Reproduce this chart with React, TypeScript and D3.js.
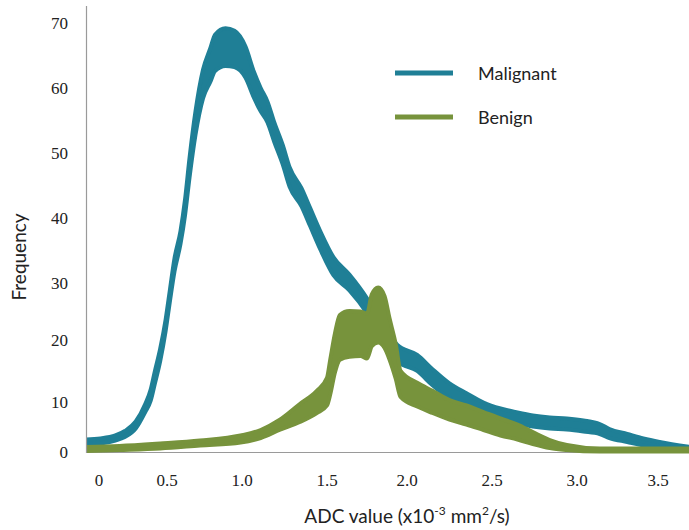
import { useRef, useEffect } from 'react'
import * as d3 from 'd3'

const WIDTH = 689
const HEIGHT = 530

const TEAL = '#1f7f96'
const OLIVE = '#77933c'

// axis ticks (label spacing in the source figure is not even)
const xTicks = [0, 0.5, 1.0, 1.5, 2.0, 2.5, 3.0, 3.5]
const yTicks = [0, 10, 20, 30, 40, 50, 60, 70]

// Malignant: ADC bins, frequency and the width of the noisy band
const malignantAdc = [
  -0.1, 0.01, 0.12, 0.19, 0.27, 0.34, 0.38, 0.41, 0.45, 0.49, 0.52, 0.55, 0.59, 0.62, 0.65, 0.69, 0.74,
  0.79, 0.82, 0.89, 0.95, 1.02, 1.07, 1.11, 1.15, 1.19, 1.24, 1.28, 1.35, 1.4, 1.46, 1.54, 1.64, 1.75,
  1.83, 1.94, 2.06, 2.15, 2.25, 2.35, 2.45, 2.55, 2.65, 2.74, 2.84, 2.94, 3.04, 3.14, 3.2, 3.31, 3.41,
  3.51, 3.7,
]
const malignantFreq = [
  2.0, 2.2, 2.8, 3.6, 5.4, 8.8, 11.1, 13.9, 17.6, 22.6, 27.9, 32.8, 37.0, 41.6, 47.7, 54.6, 60.6, 63.6,
  65.4, 66.3, 66.0, 64.0, 60.5, 58.2, 56.3, 53.2, 49.7, 46.3, 43.2, 40.2, 36.6, 32.6, 30.0, 26.0, 22.1,
  17.9, 16.3, 14.0, 11.8, 10.2, 8.8, 7.6, 6.8, 6.2, 5.8, 5.6, 5.2, 4.6, 3.7, 2.8, 2.0, 1.4, 0.6,
]
const malignantSpread = [
  0.5, 0.5, 0.5, 0.6, 0.7, 0.8, 0.9, 1.0, 1.0, 1.0, 1.0, 1.0, 1.0, 1.2, 1.5, 1.8, 2.2, 2.6, 2.8, 2.9,
  2.8, 2.4, 2.0, 1.8, 1.6, 1.5, 1.5, 1.5, 1.4, 1.4, 1.4, 1.4, 1.3, 1.3, 1.3, 1.3, 1.3, 1.3, 1.2, 1.2,
  1.1, 1.1, 1.1, 1.1, 1.1, 1.1, 1.1, 1.0, 0.9, 0.8, 0.7, 0.6, 0.4,
]

// Benign
const benignAdc = [
  -0.1, 0.15, 0.45, 0.72, 0.99, 1.11, 1.22, 1.34, 1.44, 1.5, 1.52, 1.55, 1.58, 1.64, 1.71, 1.75, 1.78,
  1.82, 1.86, 1.89, 1.93, 1.96, 2.06, 2.15, 2.25, 2.35, 2.45, 2.55, 2.65, 2.74, 2.84, 2.94, 3.14, 3.7,
]
const benignFreq = [
  0.6, 0.8, 1.2, 1.8, 2.6, 3.6, 5.4, 7.8, 9.8, 11.6, 14.0, 18.0, 20.6, 21.2, 21.2, 20.8, 23.5, 24.4,
  23.2, 20.4, 16.5, 12.9, 11.1, 9.8, 8.4, 7.4, 6.2, 5.0, 4.0, 2.8, 1.6, 0.9, 0.4, 0.4,
]
const benignSpread = [
  0.4, 0.4, 0.5, 0.5, 0.7, 0.8, 1.0, 1.8, 2.0, 2.3, 2.8, 3.2, 3.8, 3.9, 3.8, 3.8, 4.5, 4.8, 4.5, 3.5,
  2.8, 2.1, 2.0, 2.0, 1.9, 1.9, 1.8, 1.7, 1.5, 1.2, 0.8, 0.5, 0.3, 0.3,
]

const seriesNames = ['Malignant', 'Benign']

export default function App() {
  const svgRef = useRef(null)

  useEffect(() => {
    const svg = d3.select(svgRef.current)
    svg.selectAll('*').remove()
    svg.attr('width', WIDTH).attr('height', HEIGHT)

    const x = d3.scaleLinear().domain(xTicks).range([99, 167, 242, 327, 407, 492, 577, 658])
    const y = d3.scaleLinear().domain(yTicks).range([452, 402, 340, 283, 218, 153, 88, 23])

    const plotLeft = 86
    const plotBottom = 452

    svg
      .append('defs')
      .append('clipPath')
      .attr('id', 'plot-clip')
      .append('rect')
      .attr('x', plotLeft)
      .attr('y', 0)
      .attr('width', WIDTH - plotLeft)
      .attr('height', plotBottom + 2)

    const band = (adc, freq, spread) =>
      adc.map((a, i) => ({ adc: a, lo: Math.max(0, freq[i] - spread[i]), hi: freq[i] + spread[i] }))

    const area = d3
      .area()
      .x((d) => x(d.adc))
      .y0((d) => y(d.lo))
      .y1((d) => y(d.hi))
      .curve(d3.curveMonotoneX)

    // x axis line sits under the curves
    svg
      .append('line')
      .attr('x1', plotLeft)
      .attr('x2', WIDTH)
      .attr('y1', plotBottom + 0.5)
      .attr('y2', plotBottom + 0.5)
      .attr('stroke', '#9a9a9a')
      .attr('stroke-width', 1.2)

    const plot = svg.append('g').attr('clip-path', 'url(#plot-clip)')

    const series = [
      { data: band(malignantAdc, malignantFreq, malignantSpread), color: TEAL },
      { data: band(benignAdc, benignFreq, benignSpread), color: OLIVE },
    ]

    plot
      .selectAll('.band')
      .data(series)
      .join('path')
      .attr('class', 'band')
      .attr('d', (s) => area(s.data))
      .attr('fill', (s) => s.color)
      .attr('stroke', (s) => s.color)
      .attr('stroke-width', 4)
      .attr('stroke-linejoin', 'round')

    // y axis line
    svg
      .append('line')
      .attr('x1', plotLeft + 0.5)
      .attr('x2', plotLeft + 0.5)
      .attr('y1', 6)
      .attr('y2', plotBottom + 1)
      .attr('stroke', '#9a9a9a')
      .attr('stroke-width', 1.2)

    // Tick labels
    svg
      .selectAll('.ytick')
      .data(yTicks)
      .join('text')
      .attr('class', 'ytick')
      .attr('x', 68)
      .attr('y', (d) => y(d))
      .attr('text-anchor', 'end')
      .attr('dominant-baseline', 'central')
      .attr('font-family', '"Liberation Serif", serif')
      .attr('font-size', 17)
      .attr('fill', '#222')
      .text((d) => d)

    svg
      .selectAll('.xtick')
      .data(xTicks)
      .join('text')
      .attr('class', 'xtick')
      .attr('x', (d) => x(d))
      .attr('y', 480)
      .attr('text-anchor', 'middle')
      .attr('dominant-baseline', 'central')
      .attr('font-family', '"Liberation Serif", serif')
      .attr('font-size', 17)
      .attr('fill', '#222')
      .text((d) => (d === 0 ? '0' : d.toFixed(1)))

    // Axis titles
    svg
      .append('text')
      .attr('transform', 'translate(18,257) rotate(-90)')
      .attr('text-anchor', 'middle')
      .attr('dominant-baseline', 'central')
      .attr('font-family', 'Lato, sans-serif')
      .attr('font-size', 19)
      .attr('fill', '#222')
      .text('Frequency')

    const xTitle = svg
      .append('text')
      .attr('x', 407)
      .attr('y', 523)
      .attr('text-anchor', 'middle')
      .attr('font-family', 'Lato, sans-serif')
      .attr('font-size', 19)
      .attr('fill', '#222')
    xTitle.append('tspan').text('ADC value (x10')
    xTitle.append('tspan').attr('dy', -8).attr('font-size', 12).text('-3')
    xTitle.append('tspan').attr('dy', 8).text(' mm')
    xTitle.append('tspan').attr('dy', -8).attr('font-size', 12).text('2')
    xTitle.append('tspan').attr('dy', 8).text('/s)')

    // Legend
    const legend = svg
      .selectAll('.legend')
      .data(seriesNames)
      .join('g')
      .attr('class', 'legend')
      .attr('transform', (_, i) => `translate(0,${73 + i * 44})`)

    legend
      .append('line')
      .attr('x1', 395)
      .attr('x2', 453)
      .attr('stroke', (_, i) => series[i].color)
      .attr('stroke-width', 5)

    legend
      .append('text')
      .attr('x', 478)
      .attr('dominant-baseline', 'central')
      .attr('font-family', 'Lato, sans-serif')
      .attr('font-size', 18)
      .attr('fill', '#222')
      .text((d) => d)
  }, [])

  return <svg ref={svgRef} style={{ position: 'absolute', left: 0, top: 0 }} />
}
